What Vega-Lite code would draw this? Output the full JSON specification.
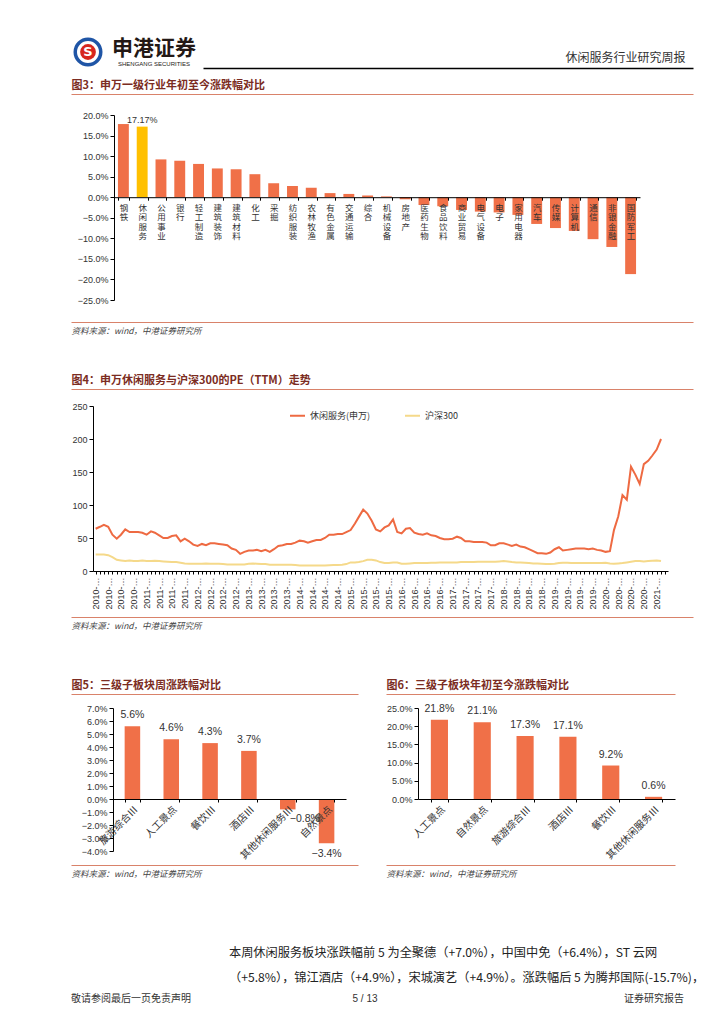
{
  "$schema": "https://vega.github.io/schema/vega-lite/v6.json",
  "background": "white",
  "padding": {"left": 68, "top": 0, "right": 4, "bottom": 0},
  "autosize": {"type": "pad"},
  "bounds": "flush",
  "spacing": 0,
  "resolve": {"legend": {"color": "independent"}, "scale": {"color": "independent"}},
  "config": {"view": {"stroke": null}, "concat": {"spacing": 0}, "font": "Noto Sans CJK SC"},
  "vconcat": [
    {"width": 622, "height": 36, "data": {"values": [{"v": 0}]}, "mark": {"type": "point", "opacity": 0},
     "encoding": {"x": {"field": "v", "type": "quantitative", "scale": {"domain": [0, 1]}, "axis": {"orient": "top", "domainColor": "white", "ticks": false, "labels": false, "grid": false, "title": null}}}},
    {"hconcat": [
      {"width": 34, "height": 32, "data": {"values": [{"k": "S"}]}, "layer": [
        {"mark": {"type": "point", "shape": "circle", "size": 650, "filled": true, "fill": "white", "stroke": "#1F55A6", "strokeWidth": 3.5, "opacity": 1}},
        {"mark": {"type": "point", "shape": "circle", "size": 250, "filled": true, "color": "#D7261E", "opacity": 1}},
        {"mark": {"type": "text", "text": "S", "fontSize": 13, "fontWeight": "bold", "color": "white", "font": "DejaVu Sans", "baseline": "middle", "align": "center"}}
      ]},
      {"width": 98, "height": 32, "data": {"values": [{"k": 1}]}, "layer": [
        {"mark": {"type": "text", "text": "申港证券", "fontSize": 21, "fontWeight": "bold", "color": "#231815", "font": "Noto Sans CJK SC", "dy": -3}},
        {"mark": {"type": "text", "text": "SHENGANG SECURITIES", "fontSize": 6, "color": "#231815", "font": "Liberation Sans", "dy": 12}}
      ]}
    ], "spacing": 0, "bounds": "flush"},
    {"width": 1, "height": 32, "data": {"values": []}, "mark": "point"},
    {"hconcat": [
      {"width": 132, "height": 1, "data": {"values": []}, "mark": "point"},
      {"width": 490, "height": 26, "data": {"values": [{"v": 0}]}, "mark": {"type": "point", "opacity": 0},
       "encoding": {"x": {"field": "v", "type": "quantitative", "scale": {"domain": [0, 1]}, "axis": {"orient": "top", "domainColor": "#000000", "domainWidth": 1.5, "ticks": false, "labels": false, "grid": false, "title": "休闲服务行业研究周报", "titleAnchor": "end", "titleAlign": "right", "titleX": 482, "titlePadding": 4, "titleFont": "Noto Sans CJK SC", "titleFontSize": 12, "titleFontWeight": "normal", "titleColor": "#333333"}}}}
    ], "spacing": 0, "bounds": "flush"},
    {"width": 1, "height": 26, "data": {"values": []}, "mark": "point"},
    {"width": 622, "height": 21, "data": {"values": [{"v": 0}]}, "mark": {"type": "point", "opacity": 0},
     "encoding": {"x": {"field": "v", "type": "quantitative", "scale": {"domain": [0, 1]}, "axis": {"orient": "top", "domainColor": "#D9826A", "domainWidth": 1.2, "ticks": false, "labels": false, "grid": false, "title": "图3：申万一级行业年初至今涨跌幅对比", "titleAnchor": "start", "titleAlign": "left", "titlePadding": 4, "titleFont": "Noto Sans CJK SC", "titleFontSize": 11, "titleFontWeight": "bold", "titleColor": "#7B2C22"}}}},
    {"hconcat": [
      {"width": 43, "height": 1, "data": {"values": []}, "mark": "point"},
      {"width": 526, "height": 185,
       "data": {"values": [
         {"industry": "钢铁", "value": 0.178, "group": "industry"},
         {"industry": "休闲服务", "value": 0.1717, "group": "focus"},
         {"industry": "公用事业", "value": 0.092, "group": "industry"},
         {"industry": "银行", "value": 0.089, "group": "industry"},
         {"industry": "轻工制造", "value": 0.081, "group": "industry"},
         {"industry": "建筑装饰", "value": 0.070, "group": "industry"},
         {"industry": "建筑材料", "value": 0.068, "group": "industry"},
         {"industry": "化工", "value": 0.056, "group": "industry"},
         {"industry": "采掘", "value": 0.034, "group": "industry"},
         {"industry": "纺织服装", "value": 0.027, "group": "industry"},
         {"industry": "农林牧渔", "value": 0.023, "group": "industry"},
         {"industry": "有色金属", "value": 0.010, "group": "industry"},
         {"industry": "交通运输", "value": 0.008, "group": "industry"},
         {"industry": "综合", "value": 0.004, "group": "industry"},
         {"industry": "机械设备", "value": 0.002, "group": "industry"},
         {"industry": "房地产", "value": -0.005, "group": "industry"},
         {"industry": "医药生物", "value": -0.019, "group": "industry"},
         {"industry": "食品饮料", "value": -0.022, "group": "industry"},
         {"industry": "商业贸易", "value": -0.031, "group": "industry"},
         {"industry": "电气设备", "value": -0.035, "group": "industry"},
         {"industry": "电子", "value": -0.037, "group": "industry"},
         {"industry": "家用电器", "value": -0.043, "group": "industry"},
         {"industry": "汽车", "value": -0.065, "group": "industry"},
         {"industry": "传媒", "value": -0.075, "group": "industry"},
         {"industry": "计算机", "value": -0.082, "group": "industry"},
         {"industry": "通信", "value": -0.102, "group": "industry"},
         {"industry": "非银金融", "value": -0.121, "group": "industry"},
         {"industry": "国防军工", "value": -0.187, "group": "industry"}
       ]},
       "encoding": {
         "x": {"field": "industry", "type": "nominal", "sort": null, "scale": {"paddingInner": 0.42, "paddingOuter": 0.21},
           "axis": {"orient": "bottom", "offset": -102.8, "title": null, "labelAngle": 0, "labelExpr": "split(datum.label, '')", "labelBaseline": "top", "labelAlign": "center", "labelFontSize": 8.5, "labelLineHeight": 9.5, "labelFont": "Noto Sans CJK SC", "labelColor": "#333333", "labelPadding": 3, "tickBand": "extent", "tickSize": 3, "tickColor": "#000000", "domainColor": "#000000", "labelOverlap": false, "zindex": 2}},
         "y": {"field": "value", "type": "quantitative", "scale": {"domain": [-0.25, 0.2], "nice": false},
           "axis": {"title": null, "format": ".1%", "values": [-0.25, -0.2, -0.15, -0.1, -0.05, 0, 0.05, 0.1, 0.15, 0.2], "grid": false, "domainColor": "#000000", "tickColor": "#000000", "tickSize": 4, "labelFontSize": 9, "labelColor": "#333333", "labelFont": "Liberation Sans"}}
       },
       "layer": [
         {"mark": {"type": "bar"}, "encoding": {"color": {"field": "group", "type": "nominal", "scale": {"domain": ["industry", "focus"], "range": ["#F07048", "#FFC000"]}, "legend": null}}},
         {"transform": [{"filter": "datum.group == 'focus'"}], "mark": {"type": "text", "dy": -7, "fontSize": 9, "color": "#333333", "font": "Liberation Sans"}, "encoding": {"text": {"field": "value", "format": ".2%"}}}
       ]}
    ], "spacing": 0, "bounds": "flush"},
    {"width": 1, "height": 185, "data": {"values": []}, "mark": "point"},
    {"width": 622, "height": 22, "data": {"values": [{"v": 0}]}, "mark": {"type": "point", "opacity": 0},
     "encoding": {"x": {"field": "v", "type": "quantitative", "scale": {"domain": [0, 1]}, "axis": {"orient": "bottom", "domainColor": "#D9826A", "domainWidth": 1.2, "ticks": false, "labels": false, "grid": false, "title": "资料来源：wind，中港证券研究所", "titleAnchor": "start", "titleAlign": "left", "titlePadding": 4, "titleFont": "Noto Sans CJK SC", "titleFontSize": 8.5, "titleFontWeight": "normal", "titleFontStyle": "italic", "titleColor": "#444444"}}}},
    {"width": 1, "height": 67, "data": {"values": []}, "mark": "point"},
    {"width": 622, "height": 17, "data": {"values": [{"v": 0}]}, "mark": {"type": "point", "opacity": 0},
     "encoding": {"x": {"field": "v", "type": "quantitative", "scale": {"domain": [0, 1]}, "axis": {"orient": "top", "domainColor": "#D9826A", "domainWidth": 1.2, "ticks": false, "labels": false, "grid": false, "title": "图4：申万休闲服务与沪深300的PE（TTM）走势", "titleAnchor": "start", "titleAlign": "left", "titlePadding": 4, "titleFont": "Noto Sans CJK SC", "titleFontSize": 11, "titleFontWeight": "bold", "titleColor": "#7B2C22"}}}},
    {"hconcat": [
      {"width": 22, "height": 1, "data": {"values": []}, "mark": "point"},
      {"width": 575, "height": 165,
       "data": {"values": [
         {"d": "2010-01-01", "休闲服务(申万)": 64, "沪深300": 25}, {"d": "2010-02-01", "休闲服务(申万)": 67, "沪深300": 25}, {"d": "2010-03-01", "休闲服务(申万)": 70, "沪深300": 25}, {"d": "2010-04-01", "休闲服务(申万)": 67, "沪深300": 24},
         {"d": "2010-05-01", "休闲服务(申万)": 55, "沪深300": 21}, {"d": "2010-06-01", "休闲服务(申万)": 49, "沪深300": 17}, {"d": "2010-07-01", "休闲服务(申万)": 55, "沪深300": 16}, {"d": "2010-08-01", "休闲服务(申万)": 63, "沪深300": 15},
         {"d": "2010-09-01", "休闲服务(申万)": 59, "沪深300": 16}, {"d": "2010-10-01", "休闲服务(申万)": 59, "沪深300": 15}, {"d": "2010-11-01", "休闲服务(申万)": 59, "沪深300": 15}, {"d": "2010-12-01", "休闲服务(申万)": 58, "沪深300": 16},
         {"d": "2011-01-01", "休闲服务(申万)": 55, "沪深300": 15}, {"d": "2011-02-01", "休闲服务(申万)": 60, "沪深300": 15}, {"d": "2011-03-01", "休闲服务(申万)": 58, "沪深300": 15.5}, {"d": "2011-04-01", "休闲服务(申万)": 54, "沪深300": 15},
         {"d": "2011-05-01", "休闲服务(申万)": 50, "沪深300": 14.5}, {"d": "2011-06-01", "休闲服务(申万)": 50, "沪深300": 14}, {"d": "2011-07-01", "休闲服务(申万)": 53, "沪深300": 13.5}, {"d": "2011-08-01", "休闲服务(申万)": 54, "沪深300": 13.5},
         {"d": "2011-09-01", "休闲服务(申万)": 45, "沪深300": 12.5}, {"d": "2011-10-01", "休闲服务(申万)": 49, "沪深300": 11.5}, {"d": "2011-11-01", "休闲服务(申万)": 45, "沪深300": 11}, {"d": "2011-12-01", "休闲服务(申万)": 40, "沪深300": 11},
         {"d": "2012-01-01", "休闲服务(申万)": 38, "沪深300": 11}, {"d": "2012-02-01", "休闲服务(申万)": 41, "沪深300": 11}, {"d": "2012-03-01", "休闲服务(申万)": 39, "沪深300": 11.5}, {"d": "2012-04-01", "休闲服务(申万)": 42, "沪深300": 11},
         {"d": "2012-05-01", "休闲服务(申万)": 42, "沪深300": 11}, {"d": "2012-06-01", "休闲服务(申万)": 41, "沪深300": 11}, {"d": "2012-07-01", "休闲服务(申万)": 40, "沪深300": 10.5}, {"d": "2012-08-01", "休闲服务(申万)": 39, "沪深300": 10},
         {"d": "2012-09-01", "休闲服务(申万)": 34, "沪深300": 10}, {"d": "2012-10-01", "休闲服务(申万)": 32, "沪深300": 10}, {"d": "2012-11-01", "休闲服务(申万)": 26, "沪深300": 10}, {"d": "2012-12-01", "休闲服务(申万)": 29, "沪深300": 10},
         {"d": "2013-01-01", "休闲服务(申万)": 31, "沪深300": 11}, {"d": "2013-02-01", "休闲服务(申万)": 31, "沪深300": 11.5}, {"d": "2013-03-01", "休闲服务(申万)": 32, "沪深300": 11}, {"d": "2013-04-01", "休闲服务(申万)": 30, "沪深300": 10.5},
         {"d": "2013-05-01", "休闲服务(申万)": 32, "沪深300": 10.5}, {"d": "2013-06-01", "休闲服务(申万)": 29, "沪深300": 9.5}, {"d": "2013-07-01", "休闲服务(申万)": 33, "沪深300": 9.5}, {"d": "2013-08-01", "休闲服务(申万)": 38, "沪深300": 9.5},
         {"d": "2013-09-01", "休闲服务(申万)": 39, "沪深300": 9.5}, {"d": "2013-10-01", "休闲服务(申万)": 41, "沪深300": 9.5}, {"d": "2013-11-01", "休闲服务(申万)": 41, "沪深300": 9.5}, {"d": "2013-12-01", "休闲服务(申万)": 43, "沪深300": 9},
         {"d": "2014-01-01", "休闲服务(申万)": 46, "沪深300": 8.5}, {"d": "2014-02-01", "休闲服务(申万)": 45, "沪深300": 8.5}, {"d": "2014-03-01", "休闲服务(申万)": 43, "沪深300": 8.5}, {"d": "2014-04-01", "休闲服务(申万)": 45, "沪深300": 8.5},
         {"d": "2014-05-01", "休闲服务(申万)": 47, "沪深300": 8.5}, {"d": "2014-06-01", "休闲服务(申万)": 47, "沪深300": 8.5}, {"d": "2014-07-01", "休闲服务(申万)": 50, "沪深300": 8.5}, {"d": "2014-08-01", "休闲服务(申万)": 55, "沪深300": 8.7},
         {"d": "2014-09-01", "休闲服务(申万)": 55, "沪深300": 9}, {"d": "2014-10-01", "休闲服务(申万)": 56, "沪深300": 9}, {"d": "2014-11-01", "休闲服务(申万)": 56, "沪深300": 9.5}, {"d": "2014-12-01", "休闲服务(申万)": 59, "沪深300": 10.5},
         {"d": "2015-01-01", "休闲服务(申万)": 62, "沪深300": 13}, {"d": "2015-02-01", "休闲服务(申万)": 72, "沪深300": 13}, {"d": "2015-03-01", "休闲服务(申万)": 82, "沪深300": 13.5}, {"d": "2015-04-01", "休闲服务(申万)": 93, "沪深300": 15},
         {"d": "2015-05-01", "休闲服务(申万)": 87, "沪深300": 17}, {"d": "2015-06-01", "休闲服务(申万)": 76, "沪深300": 17}, {"d": "2015-07-01", "休闲服务(申万)": 63, "沪深300": 16}, {"d": "2015-08-01", "休闲服务(申万)": 60, "沪深300": 13.5},
         {"d": "2015-09-01", "休闲服务(申万)": 66, "沪深300": 12}, {"d": "2015-10-01", "休闲服务(申万)": 69, "沪深300": 12}, {"d": "2015-11-01", "休闲服务(申万)": 78, "沪深300": 13}, {"d": "2015-12-01", "休闲服务(申万)": 59, "沪深300": 13},
         {"d": "2016-01-01", "休闲服务(申万)": 57, "沪深300": 11}, {"d": "2016-02-01", "休闲服务(申万)": 64, "沪深300": 11}, {"d": "2016-03-01", "休闲服务(申万)": 65, "沪深300": 11.5}, {"d": "2016-04-01", "休闲服务(申万)": 58, "沪深300": 12},
         {"d": "2016-05-01", "休闲服务(申万)": 56, "沪深300": 12}, {"d": "2016-06-01", "休闲服务(申万)": 55, "沪深300": 12}, {"d": "2016-07-01", "休闲服务(申万)": 57, "沪深300": 12}, {"d": "2016-08-01", "休闲服务(申万)": 54, "沪深300": 12.5},
         {"d": "2016-09-01", "休闲服务(申万)": 53, "沪深300": 12.5}, {"d": "2016-10-01", "休闲服务(申万)": 50, "沪深300": 13}, {"d": "2016-11-01", "休闲服务(申万)": 48, "沪深300": 13}, {"d": "2016-12-01", "休闲服务(申万)": 48, "沪深300": 13},
         {"d": "2017-01-01", "休闲服务(申万)": 49, "沪深300": 13}, {"d": "2017-02-01", "休闲服务(申万)": 52, "沪深300": 13}, {"d": "2017-03-01", "休闲服务(申万)": 50, "沪深300": 13.5}, {"d": "2017-04-01", "休闲服务(申万)": 45, "沪深300": 13.5},
         {"d": "2017-05-01", "休闲服务(申万)": 45, "沪深300": 13.5}, {"d": "2017-06-01", "休闲服务(申万)": 44, "沪深300": 13.5}, {"d": "2017-07-01", "休闲服务(申万)": 44, "沪深300": 14}, {"d": "2017-08-01", "休闲服务(申万)": 44, "沪深300": 14},
         {"d": "2017-09-01", "休闲服务(申万)": 43, "沪深300": 14}, {"d": "2017-10-01", "休闲服务(申万)": 39, "沪深300": 14}, {"d": "2017-11-01", "休闲服务(申万)": 39, "沪深300": 14}, {"d": "2017-12-01", "休闲服务(申万)": 42, "沪深300": 14.5},
         {"d": "2018-01-01", "休闲服务(申万)": 42, "沪深300": 15}, {"d": "2018-02-01", "休闲服务(申万)": 40, "沪深300": 14.5}, {"d": "2018-03-01", "休闲服务(申万)": 38, "沪深300": 13.5}, {"d": "2018-04-01", "休闲服务(申万)": 40, "沪深300": 13},
         {"d": "2018-05-01", "休闲服务(申万)": 37, "沪深300": 13}, {"d": "2018-06-01", "休闲服务(申万)": 36, "沪深300": 12.5}, {"d": "2018-07-01", "休闲服务(申万)": 33, "沪深300": 12}, {"d": "2018-08-01", "休闲服务(申万)": 30, "沪深300": 11.5},
         {"d": "2018-09-01", "休闲服务(申万)": 27, "沪深300": 11.5}, {"d": "2018-10-01", "休闲服务(申万)": 27, "沪深300": 11}, {"d": "2018-11-01", "休闲服务(申万)": 26, "沪深300": 10.5}, {"d": "2018-12-01", "休闲服务(申万)": 28, "沪深300": 10.5},
         {"d": "2019-01-01", "休闲服务(申万)": 33, "沪深300": 11}, {"d": "2019-02-01", "休闲服务(申万)": 36, "沪深300": 12}, {"d": "2019-03-01", "休闲服务(申万)": 31, "沪深300": 12.5}, {"d": "2019-04-01", "休闲服务(申万)": 32, "沪深300": 12.5},
         {"d": "2019-05-01", "休闲服务(申万)": 33, "沪深300": 12}, {"d": "2019-06-01", "休闲服务(申万)": 34, "沪深300": 12}, {"d": "2019-07-01", "休闲服务(申万)": 34, "沪深300": 12}, {"d": "2019-08-01", "休闲服务(申万)": 34, "沪深300": 12},
         {"d": "2019-09-01", "休闲服务(申万)": 33, "沪深300": 12}, {"d": "2019-10-01", "休闲服务(申万)": 34, "沪深300": 12}, {"d": "2019-11-01", "休闲服务(申万)": 32, "沪深300": 12}, {"d": "2019-12-01", "休闲服务(申万)": 31, "沪深300": 12},
         {"d": "2020-01-01", "休闲服务(申万)": 29, "沪深300": 12.5}, {"d": "2020-02-01", "休闲服务(申万)": 30, "沪深300": 11.5}, {"d": "2020-03-01", "休闲服务(申万)": 62, "沪深300": 11}, {"d": "2020-04-01", "休闲服务(申万)": 83, "沪深300": 11.5},
         {"d": "2020-05-01", "休闲服务(申万)": 115, "沪深300": 12}, {"d": "2020-06-01", "休闲服务(申万)": 108, "沪深300": 13}, {"d": "2020-07-01", "休闲服务(申万)": 158, "沪深300": 14}, {"d": "2020-08-01", "休闲服务(申万)": 146, "沪深300": 15},
         {"d": "2020-09-01", "休闲服务(申万)": 132, "沪深300": 15}, {"d": "2020-10-01", "休闲服务(申万)": 162, "沪深300": 14.5}, {"d": "2020-11-01", "休闲服务(申万)": 167, "沪深300": 15}, {"d": "2020-12-01", "休闲服务(申万)": 175, "沪深300": 15.5},
         {"d": "2021-01-01", "休闲服务(申万)": 184, "沪深300": 16}, {"d": "2021-02-01", "休闲服务(申万)": 200, "沪深300": 15}
       ]},
       "transform": [{"fold": ["休闲服务(申万)", "沪深300"], "as": ["series", "pe"]}],
       "mark": {"type": "line", "strokeWidth": 2},
       "encoding": {
         "x": {"field": "d", "type": "temporal", "scale": {"domain": [{"year": 2009, "month": 12, "date": 13}, {"year": 2021, "month": 3, "date": 23}]},
           "axis": {"title": null, "tickCount": {"interval": "month", "step": 1}, "labelExpr": "month(datum.value) % 3 == 0 ? timeFormat(datum.value, '%Y') + '-…' : ''", "labelAngle": -90, "labelAlign": "right", "labelBaseline": "middle", "labelFontSize": 9, "labelColor": "#333333", "labelOverlap": false, "labelFont": "Liberation Sans", "tickSize": 3, "tickColor": "#000000", "domainColor": "#000000", "grid": false, "labelPadding": 3}},
         "y": {"field": "pe", "type": "quantitative", "scale": {"domain": [0, 250], "nice": false},
           "axis": {"title": null, "values": [0, 50, 100, 150, 200, 250], "grid": false, "domainColor": "#000000", "tickColor": "#000000", "tickSize": 4, "labelFontSize": 9, "labelColor": "#333333", "labelFont": "Liberation Sans"}},
         "color": {"field": "series", "type": "nominal", "scale": {"domain": ["休闲服务(申万)", "沪深300"], "range": ["#EE6A42", "#F5D98A"]},
           "legend": {"orient": "none", "legendX": 196, "legendY": 1, "direction": "horizontal", "title": null, "symbolType": "stroke", "symbolStrokeWidth": 2, "symbolSize": 225, "labelFontSize": 9, "labelFont": "Noto Sans CJK SC", "labelColor": "#333333", "columnPadding": 30}}
       }}
    ], "spacing": 0, "bounds": "flush", "resolve": {"legend": {"color": "independent"}, "scale": {"color": "independent"}}},
    {"width": 1, "height": 165, "data": {"values": []}, "mark": "point"},
    {"width": 622, "height": 46, "data": {"values": [{"v": 0}]}, "mark": {"type": "point", "opacity": 0},
     "encoding": {"x": {"field": "v", "type": "quantitative", "scale": {"domain": [0, 1]}, "axis": {"orient": "bottom", "domainColor": "#D9826A", "domainWidth": 1.2, "ticks": false, "labels": false, "grid": false, "title": "资料来源：wind，中港证券研究所", "titleAnchor": "start", "titleAlign": "left", "titlePadding": 4, "titleFont": "Noto Sans CJK SC", "titleFontSize": 8.5, "titleFontWeight": "normal", "titleFontStyle": "italic", "titleColor": "#444444"}}}},
    {"width": 1, "height": 77, "data": {"values": []}, "mark": "point"},
    {"hconcat": [
      {"width": 287, "height": 14, "data": {"values": [{"v": 0}]}, "mark": {"type": "point", "opacity": 0},
       "encoding": {"x": {"field": "v", "type": "quantitative", "scale": {"domain": [0, 1]}, "axis": {"orient": "top", "domainColor": "#D9826A", "domainWidth": 1.2, "ticks": false, "labels": false, "grid": false, "title": "图5：三级子板块周涨跌幅对比", "titleAnchor": "start", "titleAlign": "left", "titlePadding": 4, "titleFont": "Noto Sans CJK SC", "titleFontSize": 11, "titleFontWeight": "bold", "titleColor": "#7B2C22"}}}},
      {"width": 28, "height": 1, "data": {"values": []}, "mark": "point"},
      {"width": 289, "height": 14, "data": {"values": [{"v": 0}]}, "mark": {"type": "point", "opacity": 0},
       "encoding": {"x": {"field": "v", "type": "quantitative", "scale": {"domain": [0, 1]}, "axis": {"orient": "top", "domainColor": "#D9826A", "domainWidth": 1.2, "ticks": false, "labels": false, "grid": false, "title": "图6：三级子板块年初至今涨跌幅对比", "titleAnchor": "start", "titleAlign": "left", "titlePadding": 4, "titleFont": "Noto Sans CJK SC", "titleFontSize": 11, "titleFontWeight": "bold", "titleColor": "#7B2C22"}}}}
    ], "spacing": 0, "bounds": "flush"},
    {"width": 1, "height": 14, "data": {"values": []}, "mark": "point"},
    {"hconcat": [
      {"width": 42, "height": 1, "data": {"values": []}, "mark": "point"},
      {"width": 233, "height": 143,
       "data": {"values": [
         {"c": "旅游综合Ⅲ", "v": 0.056}, {"c": "人工景点", "v": 0.046}, {"c": "餐饮Ⅲ", "v": 0.043},
         {"c": "酒店Ⅲ", "v": 0.037}, {"c": "其他休闲服务Ⅲ", "v": -0.008}, {"c": "自然景点", "v": -0.034}
       ]},
       "encoding": {
         "x": {"field": "c", "type": "nominal", "sort": null, "scale": {"paddingInner": 0.6, "paddingOuter": 0.3},
           "axis": {"orient": "bottom", "offset": -52, "title": null, "labelAngle": -45, "labelFontSize": 10, "labelFont": "Noto Sans CJK SC", "labelColor": "#333333", "tickBand": "extent", "tickSize": 3, "tickColor": "#000000", "domainColor": "#000000", "labelOverlap": false, "zindex": 2}},
         "y": {"field": "v", "type": "quantitative", "scale": {"domain": [-0.04, 0.07], "nice": false},
           "axis": {"title": null, "format": ".1%", "values": [-0.04, -0.03, -0.02, -0.01, 0, 0.01, 0.02, 0.03, 0.04, 0.05, 0.06, 0.07], "grid": false, "domainColor": "#000000", "tickColor": "#000000", "tickSize": 4, "labelFontSize": 9, "labelColor": "#333333", "labelFont": "Liberation Sans"}}
       },
       "layer": [
         {"mark": {"type": "bar", "color": "#F07048"}},
         {"transform": [{"filter": "datum.v >= 0"}], "mark": {"type": "text", "baseline": "bottom", "dy": -6, "fontSize": 10.5, "color": "#333333", "font": "Liberation Sans"}, "encoding": {"text": {"field": "v", "format": ".1%"}}},
         {"transform": [{"filter": "datum.v < 0 && datum.v > -0.02"}], "mark": {"type": "text", "baseline": "top", "align": "left", "dx": 2, "dy": 5, "fontSize": 10.5, "color": "#333333", "font": "Liberation Sans"}, "encoding": {"text": {"field": "v", "format": ".1%"}}},
         {"transform": [{"filter": "datum.v <= -0.02"}], "mark": {"type": "text", "baseline": "top", "dy": 6, "fontSize": 10.5, "color": "#333333", "font": "Liberation Sans"}, "encoding": {"text": {"field": "v", "format": ".1%"}}}
       ]},
      {"width": 72, "height": 1, "data": {"values": []}, "mark": "point"},
      {"width": 257, "height": 91,
       "data": {"values": [
         {"c": "人工景点", "v": 0.218}, {"c": "自然景点", "v": 0.211}, {"c": "旅游综合Ⅲ", "v": 0.173},
         {"c": "酒店Ⅲ", "v": 0.171}, {"c": "餐饮Ⅲ", "v": 0.092}, {"c": "其他休闲服务Ⅲ", "v": 0.006}
       ]},
       "encoding": {
         "x": {"field": "c", "type": "nominal", "sort": null, "scale": {"paddingInner": 0.6, "paddingOuter": 0.3},
           "axis": {"orient": "bottom", "title": null, "labelAngle": -45, "labelFontSize": 10, "labelFont": "Noto Sans CJK SC", "labelColor": "#333333", "tickBand": "extent", "tickSize": 3, "tickColor": "#000000", "domainColor": "#000000", "labelOverlap": false}},
         "y": {"field": "v", "type": "quantitative", "scale": {"domain": [0, 0.25], "nice": false},
           "axis": {"title": null, "format": ".1%", "values": [0, 0.05, 0.1, 0.15, 0.2, 0.25], "grid": false, "domainColor": "#000000", "tickColor": "#000000", "tickSize": 4, "labelFontSize": 9, "labelColor": "#333333", "labelFont": "Liberation Sans"}}
       },
       "layer": [
         {"mark": {"type": "bar", "color": "#F07048"}},
         {"mark": {"type": "text", "baseline": "bottom", "dy": -6, "fontSize": 10.5, "color": "#333333", "font": "Liberation Sans"}, "encoding": {"text": {"field": "v", "format": ".1%"}}}
       ]}
    ], "spacing": 0, "bounds": "flush"},
    {"width": 1, "height": 143, "data": {"values": []}, "mark": "point"},
    {"hconcat": [
      {"width": 287, "height": 14, "data": {"values": [{"v": 0}]}, "mark": {"type": "point", "opacity": 0},
       "encoding": {"x": {"field": "v", "type": "quantitative", "scale": {"domain": [0, 1]}, "axis": {"orient": "bottom", "domainColor": "#D9826A", "domainWidth": 1.2, "ticks": false, "labels": false, "grid": false, "title": "资料来源：wind，中港证券研究所", "titleAnchor": "start", "titleAlign": "left", "titlePadding": 4, "titleFont": "Noto Sans CJK SC", "titleFontSize": 8.5, "titleFontWeight": "normal", "titleFontStyle": "italic", "titleColor": "#444444"}}}},
      {"width": 28, "height": 1, "data": {"values": []}, "mark": "point"},
      {"width": 289, "height": 14, "data": {"values": [{"v": 0}]}, "mark": {"type": "point", "opacity": 0},
       "encoding": {"x": {"field": "v", "type": "quantitative", "scale": {"domain": [0, 1]}, "axis": {"orient": "bottom", "domainColor": "#D9826A", "domainWidth": 1.2, "ticks": false, "labels": false, "grid": false, "title": "资料来源：wind，中港证券研究所", "titleAnchor": "start", "titleAlign": "left", "titlePadding": 4, "titleFont": "Noto Sans CJK SC", "titleFontSize": 8.5, "titleFontWeight": "normal", "titleFontStyle": "italic", "titleColor": "#444444"}}}}
    ], "spacing": 0, "bounds": "flush"},
    {"width": 1, "height": 14, "data": {"values": []}, "mark": "point"},
    {"width": 1, "height": 63, "data": {"values": []}, "mark": "point"},
    {"hconcat": [
      {"width": 157, "height": 1, "data": {"values": []}, "mark": "point"},
      {"width": 2, "height": 50, "data": {"values": [{"t": "本周休闲服务板块涨跌幅前 5 为全聚德（+7.0%），中国中免（+6.4%），ST 云网\n（+5.8%），锦江酒店（+4.9%），宋城演艺（+4.9%）。涨跌幅后 5 为腾邦国际(-15.7%)，"}]},
       "mark": {"type": "text", "align": "left", "baseline": "middle", "lineBreak": "\n", "lineHeight": 25, "fontSize": 12.2, "color": "#222222", "font": "Noto Sans CJK SC"},
       "encoding": {"text": {"field": "t"}}}
    ], "spacing": 0, "bounds": "flush"},
    {"width": 1, "height": 50, "data": {"values": []}, "mark": "point"},
    {"hconcat": [
      {"width": 120, "height": 42, "data": {"values": [{"t": "敬请参阅最后一页免责声明"}]}, "mark": {"type": "text", "fontSize": 10, "color": "#333333", "font": "Noto Sans CJK SC"}, "encoding": {"text": {"field": "t"}}},
      {"width": 348, "height": 42, "data": {"values": [{"t": "5 / 13"}]}, "mark": {"type": "text", "fontSize": 10, "color": "#333333", "font": "Liberation Sans"}, "encoding": {"text": {"field": "t"}}},
      {"width": 82, "height": 1, "data": {"values": []}, "mark": "point"},
      {"width": 66, "height": 42, "data": {"values": [{"t": "证券研究报告"}]}, "mark": {"type": "text", "fontSize": 10, "color": "#333333", "font": "Noto Sans CJK SC"}, "encoding": {"text": {"field": "t"}}}
    ], "spacing": 0, "bounds": "flush"},
    {"width": 1, "height": 42, "data": {"values": []}, "mark": "point"}
  ]
}
